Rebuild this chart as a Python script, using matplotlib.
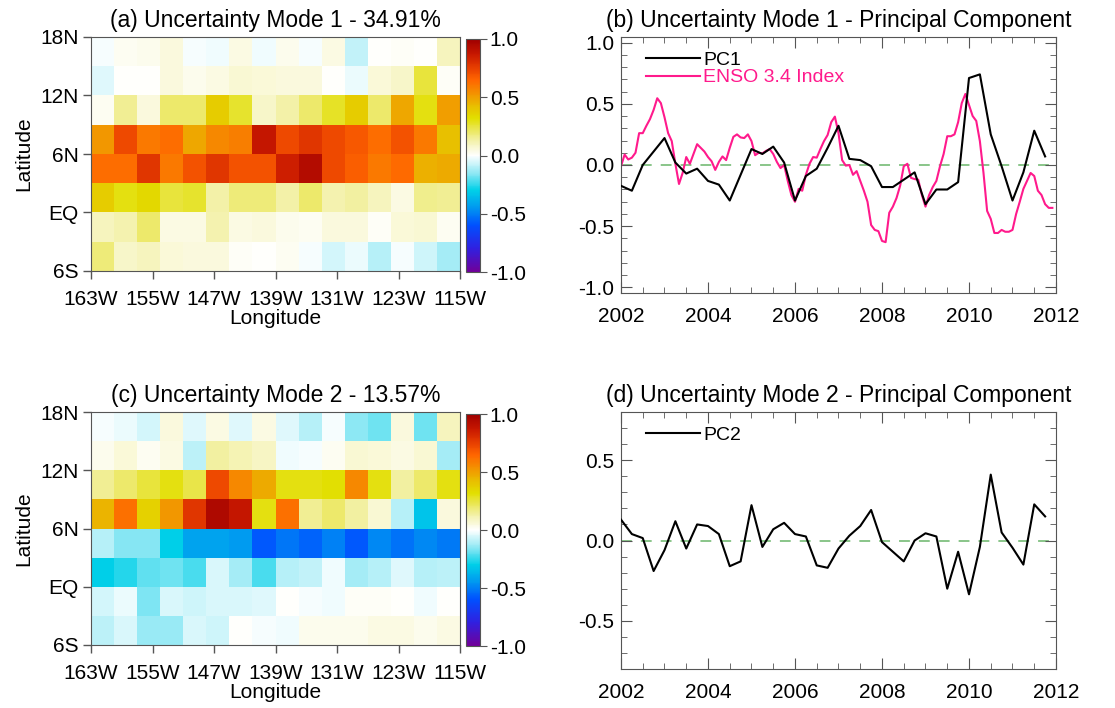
import numpy as np
import matplotlib
matplotlib.use("Agg")
import matplotlib.pyplot as plt
from matplotlib.colors import LinearSegmentedColormap
from matplotlib.ticker import MultipleLocator

plt.rcParams['font.family'] = ['Liberation Sans', 'DejaVu Sans']

# grid: 3-degree boxes, 163W-115W, 6S-18N
lon_edges = np.arange(-163, -114, 3)
lat_edges = np.arange(18, -7, -3)
lon_ticks = [-163, -155, -147, -139, -131, -123, -115]
lon_labels = ['163W', '155W', '147W', '139W', '131W', '123W', '115W']
lat_ticks = [18, 12, 6, 0, -6]
lat_labels = ['18N', '12N', '6N', 'EQ', '6S']

# EOF spatial patterns, rows north -> south
mode1 = np.array([
    [-0.01, 0.02, 0.03, 0.05, -0.01, -0.02, 0.04, -0.02, 0.03, -0.01, 0.04, -0.08, 0.00, 0.01, 0.00, 0.10],
    [-0.04, 0.00, 0.00, 0.05, 0.03, 0.04, 0.07, 0.06, 0.05, 0.05, 0.00, -0.03, 0.06, 0.08, 0.25, 0.01],
    [0.02, 0.15, 0.05, 0.20, 0.20, 0.38, 0.27, 0.08, 0.13, 0.20, 0.28, 0.38, 0.20, 0.48, 0.30, 0.50],
    [0.52, 0.72, 0.60, 0.63, 0.48, 0.56, 0.58, 0.88, 0.72, 0.78, 0.72, 0.68, 0.63, 0.70, 0.60, 0.42],
    [0.63, 0.63, 0.78, 0.60, 0.70, 0.78, 0.70, 0.70, 0.85, 0.93, 0.72, 0.67, 0.60, 0.64, 0.46, 0.47],
    [0.38, 0.30, 0.34, 0.25, 0.27, 0.13, 0.18, 0.18, 0.13, 0.20, 0.12, 0.14, 0.10, 0.04, 0.16, 0.15],
    [0.10, 0.12, 0.20, 0.04, 0.04, 0.12, 0.04, 0.05, 0.03, 0.02, 0.05, 0.05, 0.01, 0.06, 0.07, 0.02],
    [0.18, 0.08, 0.10, 0.06, 0.05, 0.05, 0.01, 0.00, 0.02, -0.01, -0.06, -0.03, -0.10, -0.01, -0.07, -0.12],
])

mode2 = np.array([
    [-0.01, -0.03, -0.06, 0.05, -0.04, 0.04, -0.04, 0.04, -0.04, -0.10, -0.01, -0.15, -0.18, 0.05, -0.18, 0.10],
    [0.03, 0.06, 0.02, 0.04, -0.09, 0.14, 0.11, 0.09, -0.02, -0.01, 0.02, 0.07, 0.06, 0.04, 0.07, -0.12],
    [0.15, 0.20, 0.25, 0.30, 0.24, 0.72, 0.56, 0.47, 0.30, 0.30, 0.32, 0.56, 0.30, 0.14, 0.20, 0.30],
    [0.45, 0.62, 0.36, 0.52, 0.78, 0.95, 0.88, 0.30, 0.62, 0.15, 0.20, 0.14, 0.07, -0.10, -0.33, 0.05],
    [-0.10, -0.16, -0.16, -0.30, -0.42, -0.42, -0.44, -0.58, -0.52, -0.56, -0.50, -0.58, -0.48, -0.53, -0.48, -0.51],
    [-0.30, -0.26, -0.20, -0.18, -0.22, -0.05, -0.12, -0.22, -0.10, -0.08, -0.02, -0.12, -0.10, -0.04, -0.10, -0.09],
    [-0.06, -0.03, -0.17, -0.05, -0.07, -0.05, -0.05, -0.04, 0.00, -0.01, -0.02, 0.01, 0.01, 0.00, -0.02, 0.00],
    [-0.09, -0.05, -0.14, -0.14, -0.05, -0.07, 0.00, -0.01, -0.02, 0.03, 0.03, 0.03, 0.04, 0.04, 0.03, 0.04],
])

# principal components, quarterly from Jan 2002
pc1 = [-0.17, -0.21, 0.00, 0.11, 0.22, 0.02, -0.07, -0.03, -0.13, -0.16,
       -0.29, -0.08, 0.13, 0.09, 0.15, 0.02, -0.29, -0.09, -0.03, 0.14,
       0.32, 0.05, 0.04, -0.01, -0.18, -0.18, -0.12, -0.06, -0.32, -0.20,
       -0.20, -0.14, 0.71, 0.74, 0.25, -0.01, -0.29, -0.06, 0.28, 0.07]
pc2 = [0.13, 0.04, 0.015, -0.19, -0.06, 0.12, -0.05, 0.10, 0.09, 0.04,
       -0.16, -0.13, 0.22, -0.04, 0.07, 0.11, 0.04, 0.025, -0.155, -0.17,
       -0.05, 0.03, 0.09, 0.19, -0.01, -0.07, -0.13, 0.00, 0.045, 0.025,
       -0.30, -0.07, -0.335, -0.04, 0.41, 0.05, -0.045, -0.15, 0.225, 0.15]

# monthly Nino 3.4 index (scaled), Jan 2002 - Dec 2011
enso = [-0.01, 0.085, 0.045, 0.06, 0.10, 0.26, 0.26, 0.32, 0.375, 0.45, 0.545, 0.505,
        0.39, 0.26, 0.195, 0.01, -0.155, -0.065, 0.065, 0.01, 0.09, 0.17, 0.14, 0.11,
        0.065, 0.03, -0.04, 0.025, 0.07, 0.04, 0.14, 0.23, 0.25, 0.225, 0.22, 0.25,
        0.195, 0.08, 0.10, 0.095, 0.115, 0.13, 0.09, 0.025, -0.025, 0.0, -0.13, -0.245,
        -0.30, -0.195, -0.21, -0.08, 0.01, 0.065, 0.06, 0.13, 0.195, 0.245, 0.35, 0.395,
        0.26, 0.04, -0.005, 0.0, -0.08, -0.05, -0.13, -0.21, -0.30, -0.49, -0.53, -0.54,
        -0.62, -0.63, -0.39, -0.34, -0.27, -0.17, -0.01, 0.01, -0.105, -0.115, -0.12, -0.245,
        -0.34, -0.245, -0.18, -0.13, -0.01, 0.09, 0.235, 0.235, 0.25, 0.35, 0.505, 0.58,
        0.49, 0.40, 0.36, 0.195, -0.065, -0.375, -0.44, -0.555, -0.555, -0.53, -0.545, -0.545,
        -0.53, -0.40, -0.30, -0.195, -0.13, -0.065, -0.09, -0.21, -0.245, -0.32, -0.35, -0.35]

t_pc = 2002 + 0.25 * np.arange(len(pc1))
t_enso = 2002 + np.arange(len(enso)) / 12.0

# purple-blue-cyan-white-yellow-orange-red
stops = [(-1.0, '#70009a'), (-0.8, '#3020e0'), (-0.6, '#0050ff'), (-0.45, '#0098f0'),
         (-0.3, '#00d0e8'), (-0.15, '#90e8f4'), (0.0, '#ffffff'), (0.12, '#f4f2b0'),
         (0.25, '#e8e440'), (0.32, '#e2df00'), (0.42, '#e8c000'), (0.5, '#f0a000'),
         (0.58, '#f88000'), (0.65, '#ff6600'), (0.75, '#e84000'), (0.87, '#c81800'),
         (1.0, '#a00000')]
cmap = LinearSegmentedColormap.from_list('unc', [((v + 1) / 2, c) for v, c in stops])

W, H = 1115, 708
fig = plt.figure(figsize=(W / 100, H / 100), dpi=100)


def box(x0, y0, x1, y1):
    return [x0 / W, 1 - y1 / H, (x1 - x0) / W, (y1 - y0) / H]


edge = '#555555'
fs = 15
tfs = 16.5


def map_panel(pos, cpos, data, title):
    ax = fig.add_axes(box(*pos))
    m = ax.pcolormesh(lon_edges, lat_edges, data, cmap=cmap, vmin=-1, vmax=1)
    ax.set_xlim(-163, -115)
    ax.set_ylim(-6, 18)
    ax.set_xticks(lon_ticks)
    ax.set_xticklabels(lon_labels)
    ax.set_yticks(lat_ticks)
    ax.set_yticklabels(lat_labels)
    ax.tick_params(direction='out', length=6, width=1, color=edge, labelsize=fs)
    ax.tick_params(axis='x', pad=8)
    ax.tick_params(axis='y', pad=3)
    ax.set_xlabel('Longitude', fontsize=fs, labelpad=0)
    ax.set_ylabel('Latitude', fontsize=fs, labelpad=5)
    ax.set_title(title, fontsize=tfs, pad=7)
    for s in ax.spines.values():
        s.set_color(edge)
    cax = fig.add_axes(box(*cpos))
    cb = fig.colorbar(m, cax=cax, ticks=[-1, -0.5, 0, 0.5, 1])
    cb.ax.set_yticklabels(['-1.0', '-0.5', '0.0', '0.5', '1.0'])
    cb.ax.tick_params(direction='out', length=5, color=edge, labelsize=fs, pad=2)
    cb.outline.set_edgecolor(edge)
    return ax


def pc_panel(pos, ylim, title):
    ax = fig.add_axes(box(*pos))
    ax.axhline(0, color='#80c080', ls=(0, (6, 5)), lw=1.3, zorder=1)
    ax.set_xlim(2002, 2012)
    ax.set_ylim(*ylim)
    ax.xaxis.set_major_locator(MultipleLocator(2))
    ax.xaxis.set_minor_locator(MultipleLocator(0.5))
    ax.yaxis.set_major_locator(MultipleLocator(0.5))
    ax.yaxis.set_minor_locator(MultipleLocator(0.1))
    ax.yaxis.set_major_formatter(lambda v, p: f'{v:.1f}')
    ax.tick_params(which='both', direction='in', top=True, right=True, color=edge,
                   labelsize=fs)
    ax.tick_params(axis='x', which='both', pad=10)
    ax.tick_params(axis='y', which='both', pad=5)
    ax.tick_params(which='major', length=8)
    ax.tick_params(which='minor', length=4)
    ax.set_title(title, fontsize=tfs, pad=7)
    for s in ax.spines.values():
        s.set_color(edge)
    return ax


def add_legend(ax):
    ax.legend(loc='upper left', frameon=False, fontsize=14, handlelength=2.8,
              handletextpad=0.15, labelspacing=0.0, borderaxespad=0.2,
              labelcolor='linecolor', bbox_to_anchor=(0.03, 0.99))


map_panel((91, 37, 460, 271), (466, 39, 480, 272), mode1, '(a) Uncertainty Mode 1 - 34.91%')
map_panel((91, 412, 460, 645), (466, 414, 480, 646), mode2, '(c) Uncertainty Mode 2 - 13.57%')

axb = pc_panel((621, 37, 1056, 293), (-1.045, 1.045), '(b) Uncertainty Mode 1 - Principal Component')
axb.plot(t_pc, pc1, color='black', lw=1.5, label='PC1', zorder=3)
axb.plot(t_enso, enso, color='#ff1a8c', lw=1.5, label='ENSO 3.4 Index', zorder=2)
add_legend(axb)

axd = pc_panel((621, 412, 1056, 669), (-0.8, 0.8), '(d) Uncertainty Mode 2 - Principal Component')
axd.plot(t_pc, pc2, color='black', lw=1.5, label='PC2', zorder=3)
add_legend(axd)

fig.savefig('out.png', dpi=100)
